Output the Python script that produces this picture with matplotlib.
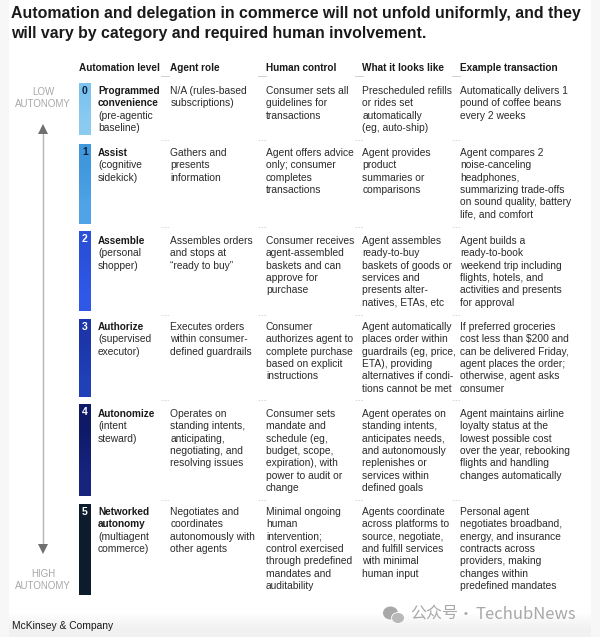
import matplotlib
matplotlib.use("Agg")
import matplotlib.pyplot as plt
from matplotlib.patches import Rectangle, Ellipse
from matplotlib.colors import LinearSegmentedColormap

title_lines = ["Automation and delegation in commerce will not unfold uniformly, and they",
               "will vary by category and required human involvement."]
headers = ["Automation level", "Agent role", "Human control", "What it looks like", "Example transaction"]
levels = ["0", "1", "2", "3", "4", "5"]
level_names = [["Programmed", "convenience"], ["Assist"], ["Assemble"], ["Authorize"], ["Autonomize"], ["Networked", "autonomy"]]
level_notes = [["(pre-agentic", "baseline)"], ["(cognitive", "sidekick)"], ["(personal", "shopper)"],
               ["(supervised", "executor)"], ["(intent", "steward)"], ["(multiagent", "commerce)"]]
agent_role = [
    ["N/A (rules-based", "subscriptions)"],
    ["Gathers and", "presents", "information"],
    ["Assembles orders", "and stops at", "\u201cready to buy\u201d"],
    ["Executes orders", "within consumer-", "defined guardrails"],
    ["Operates on", "standing intents,", "anticipating,", "negotiating, and", "resolving issues"],
    ["Negotiates and", "coordinates", "autonomously with", "other agents"],
]
human_control = [
    ["Consumer sets all", "guidelines for", "transactions"],
    ["Agent offers advice", "only; consumer", "completes", "transactions"],
    ["Consumer receives", "agent-assembled", "baskets and can", "approve for", "purchase"],
    ["Consumer", "authorizes agent to", "complete purchase", "based on explicit", "instructions"],
    ["Consumer sets", "mandate and", "schedule (eg,", "budget, scope,", "expiration), with", "power to audit or", "change"],
    ["Minimal ongoing", "human", "intervention;", "control exercised", "through predefined", "mandates and", "auditability"],
]
looks_like = [
    ["Prescheduled refills", "or rides set", "automatically", "(eg, auto-ship)"],
    ["Agent provides", "product", "summaries or", "comparisons"],
    ["Agent assembles", "ready-to-buy", "baskets of goods or", "services and", "presents alter-", "natives, ETAs, etc"],
    ["Agent automatically", "places order within", "guardrails (eg, price,", "ETA), providing", "alternatives if condi-", "tions cannot be met"],
    ["Agent operates on", "standing intents,", "anticipates needs,", "and autonomously", "replenishes or", "services within", "defined goals"],
    ["Agents coordinate", "across platforms to", "source, negotiate,", "and fulfill services", "with minimal", "human input"],
]
example = [
    ["Automatically delivers 1", "pound of coffee beans", "every 2 weeks"],
    ["Agent compares 2", "noise-canceling", "headphones,", "summarizing trade-offs", "on sound quality, battery", "life, and comfort"],
    ["Agent builds a", "ready-to-book", "weekend trip including", "flights, hotels, and", "activities and presents", "for approval"],
    ["If preferred groceries", "cost less than $200 and", "can be delivered Friday,", "agent places the order;", "otherwise, agent asks", "consumer"],
    ["Agent maintains airline", "loyalty status at the", "lowest possible cost", "over the year, rebooking", "flights and handling", "changes automatically"],
    ["Personal agent", "negotiates broadband,", "energy, and insurance", "contracts across", "providers, making", "changes within", "predefined mandates"],
]
bar_colors = [("#7cc4ee", "#8ccbf0"), ("#3f97dc", "#4fa3e6"), ("#2a4fd8", "#2f58e8"),
              ("#1c35a8", "#2040b8"), ("#0e1a66", "#16247e"), ("#0c1c2c", "#0c1c2c")]
number_colors = ["#0b1f3a", "#0b1f3a", "white", "white", "white", "white"]

# layout (pixels)
row_top = [83, 144, 231, 319, 404, 504]
row_bot = [135, 224, 311, 397, 496, 595]
text_base = [94, 156, 244, 330, 417, 515]
col_x = [170.5, 266, 362.5, 460]
LH = 12.35
FS = 7.4
FSB = 7.2
FONT = ["Liberation Sans", "DejaVu Sans"]
INK = "#2b2b2b"
WM = "#a8a8a8"

fig = plt.figure(figsize=(6, 6.37), dpi=100, facecolor="white")
ax = fig.add_axes([0, 0, 1, 1])
ax.axis("off")

def gradient(cols, x0, x1, top, bot, z):
    c = LinearSegmentedColormap.from_list("g", cols)
    ax.imshow([[0], [1]], cmap=c, extent=(x0, x1, bot, top), aspect="auto", zorder=z,
              interpolation="bilinear", vmin=0, vmax=1)

# photographed page: pale side margins and footer fade
gradient(["#ffffff", "#f1f1f1"], 0, 600, 605, 637, 0)
ax.add_patch(Rectangle((0, 0), 9, 637, color="#f7f7f7", lw=0, zorder=0.5))
ax.add_patch(Rectangle((591, 0), 9, 637, color="#f7f7f7", lw=0, zorder=0.5))

for i, line in enumerate(title_lines):
    ax.text(11, 18 + i * 20, line, fontsize=11.44, fontweight="bold", family=["Liberation Sans"],
            color="#1a1a1a", va="baseline", ha="left")

header_x = [79, 170.5, 266, 362.5, 460]
for x, h in zip(header_x, headers):
    ax.text(x, 71, h, fontsize=FSB, fontweight="bold", family=FONT, color="#1a1a1a", va="baseline")

# faint row tick marks
for x in [161, 258, 355, 452]:
    ax.plot([x, x + 8], [76, 76], color="#c8c8c8", lw=0.6)
    for t in row_top[1:]:
        ax.plot([x, x + 8], [t - 4, t - 4], color="#d4d4d4", lw=0.6, dashes=(2, 1.5))

for i, lev in enumerate(levels):
    top, bot = row_top[i], row_bot[i]
    gradient(bar_colors[i], 79, 91, top, bot, 2)
    ax.text(85, top + 11, lev, fontsize=7.5, fontweight="bold", family=FONT, color=number_colors[i],
            ha="center", va="baseline", zorder=3)
    y = text_base[i]
    for s in level_names[i]:
        ax.text(98, y, s, fontsize=FSB, fontweight="bold", family=FONT, color="#1a1a1a", va="baseline")
        y += LH
    for s in level_notes[i]:
        ax.text(98, y, s, fontsize=FS, family=FONT, color=INK, va="baseline")
        y += LH
    for x, col in zip(col_x, [agent_role, human_control, looks_like, example]):
        for j, s in enumerate(col[i]):
            ax.text(x, text_base[i] + j * LH, s, fontsize=FS, family=FONT, color=INK, va="baseline")

# autonomy axis
for y, s in zip([92, 104, 574, 586], ["LOW", "AUTONOMY", "HIGH", "AUTONOMY"]):
    ax.text(43, y, s, fontsize=7.0, family=FONT, color="#a8a8a8", ha="center", va="center")
ax.plot([43, 43], [130, 545], color="#b5b5b5", lw=1.0, zorder=1)
ax.plot([43], [129], marker="^", ms=6.5, color="#6f6f6f", mew=0)
ax.plot([43], [549], marker="v", ms=6.5, color="#6f6f6f", mew=0)

ax.text(12, 629, "McKinsey & Company", fontsize=7.4, family=FONT, color="#1a1a1a", va="baseline")

# watermark
ax.add_patch(Ellipse((390.5, 613), 15, 13, color=WM, lw=0, zorder=3))
ax.add_patch(Ellipse((398, 618), 13, 11, color="#b8b8b8", ec="white", lw=0.6, zorder=4))
ax.text(410, 619, "\u516c\u4f17\u53f7", fontsize=11.5, color=WM, va="baseline",
        family=["Noto Sans CJK SC", "DejaVu Sans"], zorder=3)
ax.text(466, 619, "\u00b7", fontsize=11.5, color=WM, va="baseline", ha="center",
        family=["Noto Sans CJK SC", "DejaVu Sans"], zorder=3)
ax.text(476, 619, "TechubNews", fontsize=12, color=WM, va="baseline",
        family=["Noto Sans CJK SC", "DejaVu Sans"], zorder=3)

ax.set_xlim(0, 600); ax.set_ylim(637, 0)
fig.savefig("out.png", dpi=100)
